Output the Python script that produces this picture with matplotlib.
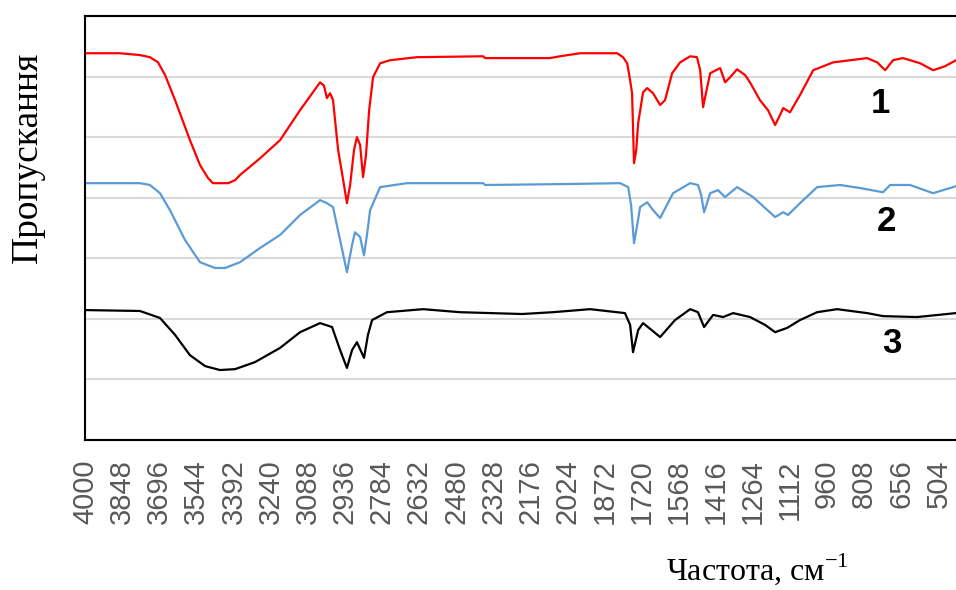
import numpy as np
from matplotlib import pyplot as plt

plt.rcParams["font.family"] = ["Liberation Sans", "DejaVu Sans"]

# spectrum 1 (red)
wn_1 = [4000, 3857, 3775, 3734, 3701, 3672, 3631, 3570, 3529, 3496, 3476, 3414, 3385, 3365,
        3283, 3201, 3119, 3037, 3021, 3009, 2996, 2984, 2963, 2939, 2927, 2914,
        2898, 2886, 2873, 2861, 2849, 2836, 2820, 2791, 2750, 2640, 2369, 2361,
        2095, 2054, 1972, 1820, 1796, 1779, 1767, 1759, 1751, 1742, 1734, 1714,
        1697, 1673, 1644, 1624, 1595, 1562, 1521, 1493, 1480, 1468, 1452, 1439,
        1415, 1398, 1378, 1357, 1329, 1296, 1276, 1235, 1202, 1173, 1157, 1140,
        1112, 1071, 1017, 935, 796, 755, 722, 690, 649, 579, 526, 477, 432]
t_1 = [127.7, 127.7, 127.1, 126.4, 124.7, 120.5, 112.2, 99.0, 90.8, 86.5, 84.8, 84.8, 85.8, 87.5,
       93.0, 99.0, 108.9, 118.1, 117.0, 112.9, 114.5, 112.2, 95.7, 84.2, 78.2, 84.2,
       95.7, 100.0, 97.4, 86.8, 94.0, 108.9, 119.8, 124.4, 125.4, 126.4, 126.7, 126.1,
       126.1, 126.7, 127.7, 127.7, 126.4, 124.4, 118.8, 114.5, 91.4, 95.7, 104.6, 114.8,
       116.2, 114.5, 110.6, 112.2, 121.1, 124.7, 126.7, 126.4, 122.1, 109.9, 116.2, 121.1,
       122.1, 122.8, 118.1, 119.8, 122.4, 120.5, 118.1, 112.2, 108.9, 104.0, 106.6, 109.6,
       108.2, 113.9, 122.1, 124.7, 126.1, 124.7, 122.1, 125.4, 126.1, 124.4, 122.1, 123.4, 125.4]

# spectrum 2 (blue)
wn_2 = [4000, 3775, 3734, 3693, 3652, 3590, 3529, 3467, 3426, 3365, 3283, 3201,
        3119, 3037, 3009, 2984, 2955, 2927, 2906, 2894, 2873, 2857, 2845, 2832,
        2791, 2681, 2369, 2361, 2042, 1808, 1775, 1763, 1751, 1738, 1726, 1697,
        1673, 1644, 1591, 1521, 1489, 1476, 1464, 1439, 1407, 1378, 1329, 1263,
        1214, 1173, 1140, 1120, 1071, 1001, 907, 825, 731, 702, 620, 526, 432]
t_2 = [84.8, 84.8, 84.2, 81.5, 75.9, 66.0, 58.7, 56.8, 56.8, 58.7, 63.4, 67.7,
       74.3, 79.2, 78.2, 76.9, 66.0, 55.4, 64.4, 68.6, 67.0, 61.0, 67.7, 75.9,
       83.5, 84.8, 84.8, 84.2, 84.5, 84.8, 83.5, 77.6, 65.0, 71.0, 76.9, 78.5,
       75.9, 73.3, 81.5, 84.8, 84.2, 80.9, 75.2, 81.5, 82.5, 80.2, 83.5, 80.2,
       76.6, 73.6, 75.2, 74.3, 78.2, 83.5, 84.2, 83.2, 81.8, 84.2, 84.2, 81.5, 83.8]

# spectrum 3 (black)
wn_3 = [4000, 3775, 3693, 3631, 3570, 3508, 3447, 3385, 3304, 3201, 3119, 3037,
        2988, 2955, 2927, 2906, 2886, 2857, 2841, 2824, 2763, 2615, 2464, 2210,
        2083, 1931, 1788, 1767, 1755, 1734, 1714, 1644, 1583, 1521, 1489, 1464,
        1427, 1386, 1345, 1276, 1214, 1173, 1124, 1071, 1001, 919, 796, 731, 591, 432]
t_3 = [42.9, 42.6, 40.3, 34.7, 28.0, 24.4, 23.1, 23.4, 25.7, 30.4, 35.6, 38.6,
       37.3, 29.7, 23.8, 29.7, 32.3, 27.1, 34.7, 39.6, 42.2, 43.2, 42.2, 41.6,
       42.2, 43.2, 41.9, 38.0, 29.0, 36.3, 38.6, 34.0, 39.6, 43.2, 42.2, 37.3,
       41.3, 40.6, 41.9, 40.6, 38.0, 35.6, 37.0, 39.6, 42.2, 43.2, 41.9, 40.9, 40.6, 41.9]

series = [(wn_1, t_1, "#ff0000", "1"), (wn_2, t_2, "#5b9bd5", "2"), (wn_3, t_3, "#000000", "3")]
label_pos = [(740, 111), (715, 72), (695, 32)]

x_ticks = np.arange(4000, 431, -152)

fig = plt.figure(figsize=(9.56, 5.9), dpi=100)
ax = fig.add_axes([85 / 956, 150 / 590, 871 / 956, 424 / 590])

for (wn, t, color, name), (lx, ly) in zip(series, label_pos):
    ax.plot(wn, t, color=color, lw=1.6)
    ax.text(lx, ly, name, fontsize=25, fontweight="bold", ha="center", va="center")

ax.set_xlim(4000, 432)
ax.set_ylim(0, 140)
ax.set_xticks(x_ticks)
ax.set_xticklabels([str(v) for v in x_ticks], rotation=90, fontsize=21, color="#595959")
ax.set_yticks(np.arange(0, 141, 20))
ax.set_yticklabels([])
ax.tick_params(axis="both", length=0)
ax.tick_params(axis="x", pad=14)
ax.grid(axis="y", color="#d9d9d9", lw=1.5)
ax.spines["right"].set_visible(False)
for s in ["top", "bottom", "left"]:
    ax.spines[s].set_linewidth(1.5)

fig.text(28 / 956, 1 - 157 / 590, "Пропускання", family="Liberation Serif", fontsize=27,
         rotation=90, ha="center", va="center")
fig.text(757 / 956, 10 / 590, "Частота, см$^{\\mathregular{-1}}$", family="Liberation Serif",
         fontsize=23, ha="center", va="baseline")

plt.savefig("out.png", dpi=100)
plt.close()
